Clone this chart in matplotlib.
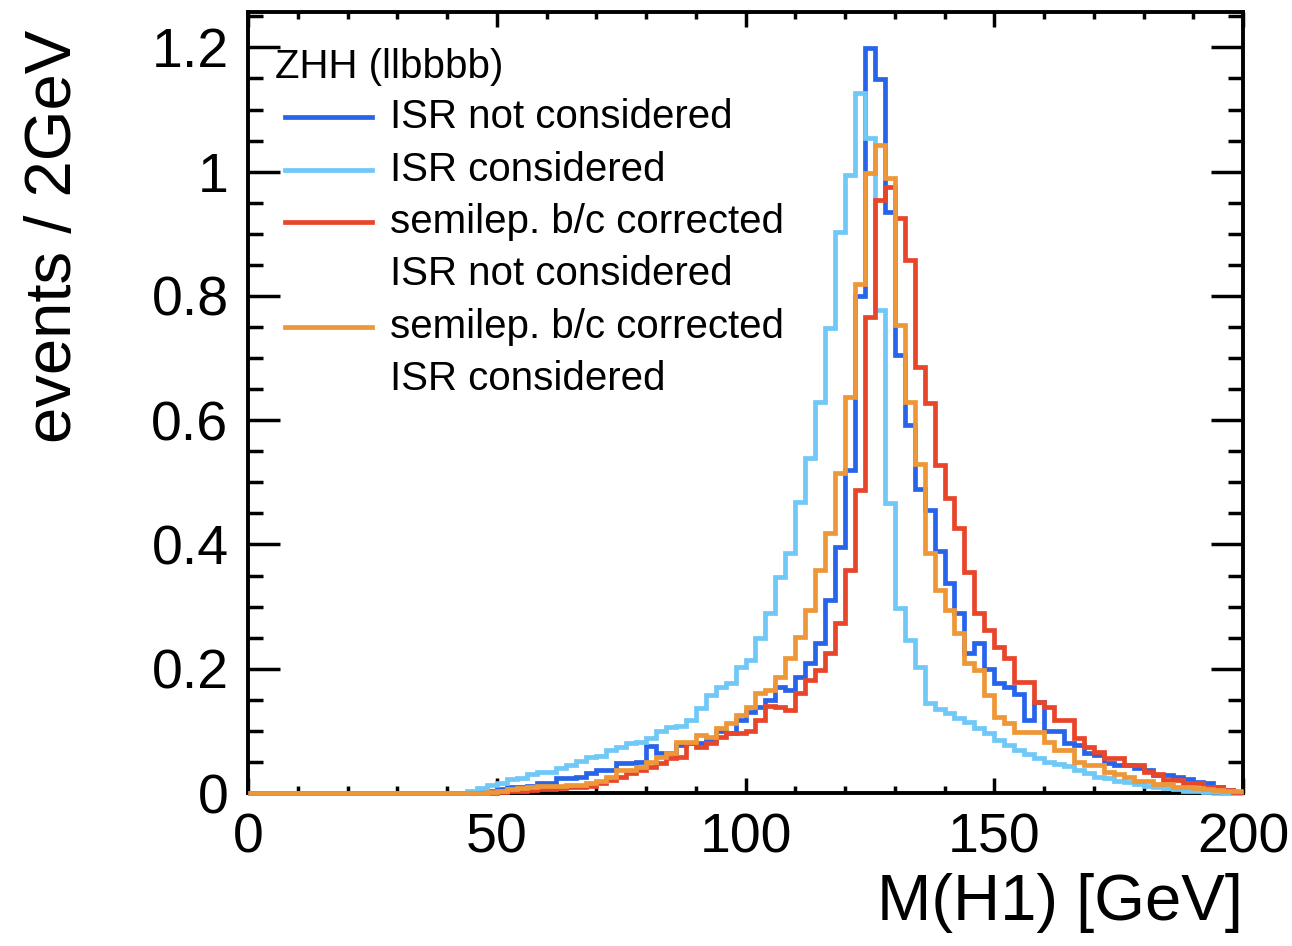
# zhh_mh1.py
# M(H1) distributions for ZHH (llbbbb), with and without ISR / semileptonic b/c correction.

import numpy as np
import matplotlib
matplotlib.use("Agg")
import matplotlib.pyplot as plt
from matplotlib.ticker import MultipleLocator

# 2 GeV bins from 0 to 200
bin_edges = np.arange(0, 201, 2)

isr_not_considered = [
    0, 0, 0, 0, 0, 0, 0, 0, 0, 0,
    0, 0, 0, 0, 0, 0, 0, 0, 0, 0,
    0, 0, 0, 0.002, 0.004, 0.006, 0.010, 0.010, 0.012, 0.016,
    0.016, 0.024, 0.024, 0.026, 0.032, 0.037, 0.037, 0.048, 0.048, 0.050,
    0.075, 0.064, 0.064, 0.077, 0.080, 0.080, 0.085, 0.100, 0.097, 0.117,
    0.130, 0.138, 0.150, 0.170, 0.166, 0.187, 0.209, 0.241, 0.310, 0.396,
    0.520, 0.800, 1.199, 1.149, 0.935, 0.705, 0.592, 0.490, 0.455, 0.390,
    0.338, 0.290, 0.225, 0.241, 0.200, 0.177, 0.170, 0.160, 0.117, 0.147,
    0.100, 0.100, 0.080, 0.077, 0.064, 0.061, 0.048, 0.045, 0.045, 0.040,
    0.037, 0.029, 0.029, 0.026, 0.022, 0.018, 0.016, 0.010, 0.005, 0.002,
]

isr_considered = [
    0, 0, 0, 0, 0, 0, 0, 0, 0, 0,
    0, 0, 0, 0, 0, 0, 0, 0, 0, 0,
    0, 0, 0.004, 0.008, 0.013, 0.016, 0.022, 0.024, 0.030, 0.033,
    0.034, 0.040, 0.045, 0.052, 0.058, 0.060, 0.070, 0.074, 0.080, 0.082,
    0.088, 0.100, 0.106, 0.108, 0.117, 0.137, 0.158, 0.170, 0.177, 0.203,
    0.214, 0.250, 0.290, 0.348, 0.386, 0.468, 0.539, 0.630, 0.748, 0.903,
    0.994, 1.126, 1.055, 0.777, 0.467, 0.298, 0.246, 0.203, 0.145, 0.135,
    0.128, 0.120, 0.115, 0.105, 0.096, 0.085, 0.078, 0.070, 0.063, 0.056,
    0.050, 0.047, 0.043, 0.037, 0.032, 0.026, 0.024, 0.020, 0.018, 0.015,
    0.012, 0.010, 0.008, 0.006, 0.004, 0.003, 0.002, 0.001, 0, 0,
]

corr_isr_not_considered = [
    0, 0, 0, 0, 0, 0, 0, 0, 0, 0,
    0, 0, 0, 0, 0, 0, 0, 0, 0, 0,
    0, 0, 0, 0, 0, 0.002, 0.003, 0.004, 0.005, 0.006,
    0.007, 0.008, 0.009, 0.010, 0.012, 0.016, 0.021, 0.026, 0.032, 0.037,
    0.042, 0.048, 0.056, 0.058, 0.080, 0.074, 0.080, 0.090, 0.097, 0.097,
    0.100, 0.118, 0.140, 0.138, 0.134, 0.161, 0.182, 0.198, 0.225, 0.273,
    0.359, 0.487, 0.766, 0.954, 0.975, 0.925, 0.858, 0.685, 0.627, 0.528,
    0.475, 0.426, 0.356, 0.290, 0.262, 0.235, 0.217, 0.179, 0.179, 0.147,
    0.139, 0.117, 0.117, 0.088, 0.074, 0.066, 0.056, 0.056, 0.045, 0.045,
    0.034, 0.030, 0.021, 0.021, 0.016, 0.016, 0.010, 0.010, 0.005, 0.002,
]

corr_isr_considered = [
    0, 0, 0, 0, 0, 0, 0, 0, 0, 0,
    0, 0, 0, 0, 0, 0, 0, 0, 0, 0,
    0, 0, 0, 0, 0.002, 0.004, 0.006, 0.008, 0.009, 0.011,
    0.012, 0.012, 0.013, 0.013, 0.016, 0.020, 0.026, 0.037, 0.037, 0.042,
    0.050, 0.058, 0.064, 0.082, 0.082, 0.093, 0.090, 0.105, 0.113, 0.125,
    0.138, 0.161, 0.166, 0.187, 0.217, 0.251, 0.294, 0.359, 0.418, 0.515,
    0.637, 0.820, 0.998, 1.043, 0.990, 0.753, 0.630, 0.530, 0.386, 0.327,
    0.294, 0.257, 0.209, 0.198, 0.158, 0.122, 0.113, 0.098, 0.098, 0.098,
    0.082, 0.069, 0.069, 0.050, 0.045, 0.045, 0.034, 0.030, 0.026, 0.020,
    0.020, 0.015, 0.015, 0.010, 0.010, 0.008, 0.006, 0.005, 0.004, 0.003,
]

series = [
    (isr_not_considered, "#2864ea", "ISR not considered"),
    (isr_considered, "#6fc8f6", "ISR considered"),
    (corr_isr_not_considered, "#e8462b", "semilep. b/c corrected"),
    (corr_isr_considered, "#ee9738", "semilep. b/c corrected"),
]

plt.rcParams["font.family"] = ["Liberation Sans", "DejaVu Sans"]

fig = plt.figure(figsize=(12.92, 9.46), dpi=100)
ax = fig.add_axes([248 / 1292, 1 - 793 / 946, 995 / 1292, 781 / 946])

for vals, col, _ in series:
    ax.stairs(vals, bin_edges, color=col, linewidth=3.4, baseline=None,
              clip_on=False, zorder=3)

ax.set_xlim(0, 200)
ax.set_ylim(0, 1.257)

ax.xaxis.set_major_locator(MultipleLocator(50))
ax.xaxis.set_minor_locator(MultipleLocator(10))
ax.yaxis.set_major_locator(MultipleLocator(0.2))
ax.yaxis.set_minor_locator(MultipleLocator(0.05))
ax.set_yticks([0, 0.2, 0.4, 0.6, 0.8, 1.0, 1.2])
ax.set_yticklabels(["0", "0.2", "0.4", "0.6", "0.8", "1", "1.2"])

ax.tick_params(axis="both", which="both", direction="in", top=True, right=True,
               width=2.5, labelsize=40)
ax.tick_params(axis="x", which="major", length=11, pad=14)
ax.tick_params(axis="x", which="minor", length=5)
ax.tick_params(axis="y", which="major", length=23, pad=14)
ax.tick_params(axis="y", which="minor", length=11)
for sp in ax.spines.values():
    sp.set_linewidth(2.8)

ax.set_xlabel("M(H1) [GeV]", fontsize=47, loc="right")
ax.xaxis.set_label_coords(1.0, -0.103)
ax.set_ylabel("events / 2GeV", fontsize=47, loc="top")
ax.yaxis.set_label_coords(-0.165, 0.977)

# legend drawn by hand, ROOT style
leg_rows = [0.8656, 0.7977, 0.7311, 0.5967]
ax.text(0.027, 0.9296, "ZHH (llbbbb)", transform=ax.transAxes, fontsize=29,
        va="center", ha="left")
for (vals, col, lab), yy in zip(series, leg_rows):
    ax.plot([0.037, 0.125], [yy, yy], transform=ax.transAxes, color=col,
            linewidth=3.4)
    ax.text(0.143, yy, lab, transform=ax.transAxes, fontsize=29,
            va="center", ha="left")
ax.text(0.143, 0.6645, "ISR not considered", transform=ax.transAxes,
        fontsize=29, va="center", ha="left")
ax.text(0.143, 0.5301, "ISR considered", transform=ax.transAxes,
        fontsize=29, va="center", ha="left")

fig.savefig("out.png", dpi=100)
